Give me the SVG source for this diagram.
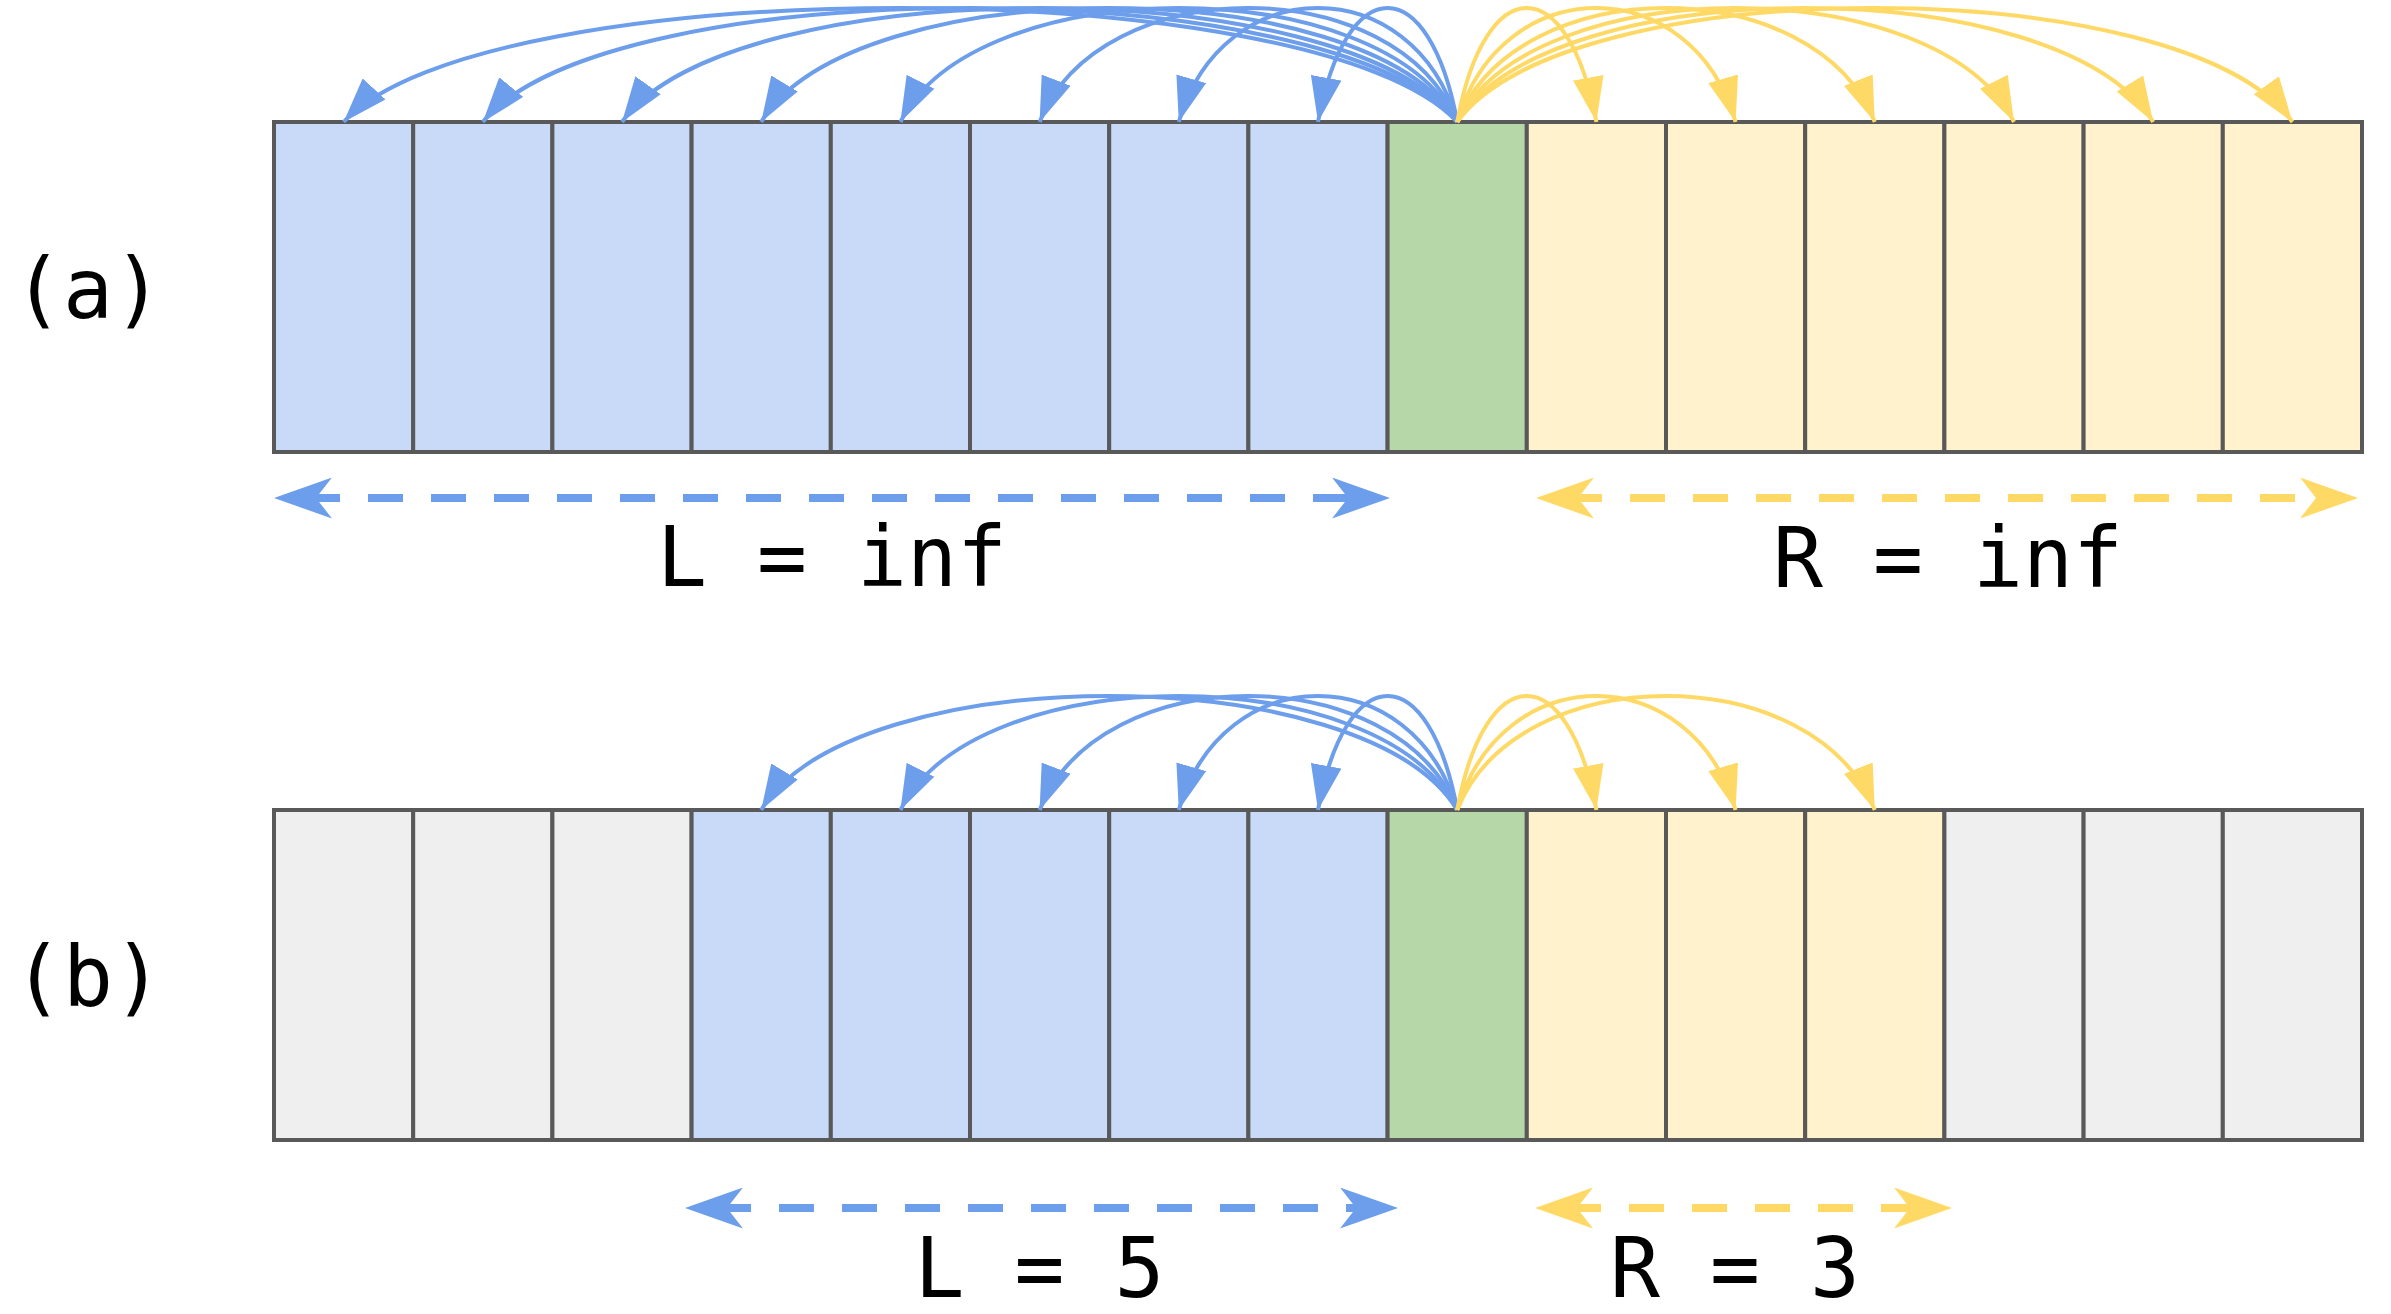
<svg xmlns="http://www.w3.org/2000/svg" width="2391" height="1314" viewBox="0 0 2391 1314">
  <style>
    .cell { stroke: #595959; stroke-width: 4; }
    .blue { fill: #c9daf8; }
    .green { fill: #b6d7a8; }
    .yellow { fill: #fff2cc; }
    .grey { fill: #efefef; }
    .arcB { fill: none; stroke: #6d9eeb; stroke-width: 4; marker-end: url(#headB); }
    .arcY { fill: none; stroke: #ffd966; stroke-width: 4; marker-end: url(#headY); }
    .dashB { fill: none; stroke: #6d9eeb; stroke-width: 8; stroke-dasharray: 35 28; stroke-dashoffset: 62; marker-start: url(#dheadB); marker-end: url(#dheadB); }
    .dashY { fill: none; stroke: #ffd966; stroke-width: 8; stroke-dasharray: 35 28; stroke-dashoffset: 62; marker-start: url(#dheadY); marker-end: url(#dheadY); }
    .lbl { font-family: "DejaVu Sans Mono", "Liberation Mono", monospace; font-size: 83px; fill: #000000; text-anchor: middle; }
  </style>
  <defs>
    <marker id="headB" markerUnits="userSpaceOnUse" viewBox="0 0 45 31" markerWidth="45" markerHeight="31" refX="45" refY="15.5" orient="auto">
      <path d="M0,0 L45,15.5 L0,31 z" fill="#6d9eeb"/>
    </marker>
    <marker id="headY" markerUnits="userSpaceOnUse" viewBox="0 0 45 31" markerWidth="45" markerHeight="31" refX="45" refY="15.5" orient="auto">
      <path d="M0,0 L45,15.5 L0,31 z" fill="#ffd966"/>
    </marker>
    <marker id="dheadB" markerUnits="userSpaceOnUse" viewBox="0 0 58 41" markerWidth="58" markerHeight="41" refX="28" refY="20.5" orient="auto-start-reverse">
      <path d="M0,0 L58,20.5 L0,41 L16,20.5 z" fill="#6d9eeb"/>
    </marker>
    <marker id="dheadY" markerUnits="userSpaceOnUse" viewBox="0 0 58 41" markerWidth="58" markerHeight="41" refX="28" refY="20.5" orient="auto-start-reverse">
      <path d="M0,0 L58,20.5 L0,41 L16,20.5 z" fill="#ffd966"/>
    </marker>
  </defs>
  <rect x="0" y="0" width="2391" height="1314" fill="#ffffff"/>

  <!-- Panel (a) -->
  <g id="label-a"><text class="lbl" x="88" y="318">(a)</text></g>
  <g id="row-a">
    <g id="a-cell-0"><rect class="cell blue" x="274" y="122" width="139.2" height="330"/></g>
    <g id="a-cell-1"><rect class="cell blue" x="413.2" y="122" width="139.2" height="330"/></g>
    <g id="a-cell-2"><rect class="cell blue" x="552.4" y="122" width="139.2" height="330"/></g>
    <g id="a-cell-3"><rect class="cell blue" x="691.6" y="122" width="139.2" height="330"/></g>
    <g id="a-cell-4"><rect class="cell blue" x="830.8" y="122" width="139.2" height="330"/></g>
    <g id="a-cell-5"><rect class="cell blue" x="970" y="122" width="139.2" height="330"/></g>
    <g id="a-cell-6"><rect class="cell blue" x="1109.2" y="122" width="139.2" height="330"/></g>
    <g id="a-cell-7"><rect class="cell blue" x="1248.4" y="122" width="139.2" height="330"/></g>
    <g id="a-cell-8"><rect class="cell green" x="1387.6" y="122" width="139.2" height="330"/></g>
    <g id="a-cell-9"><rect class="cell yellow" x="1526.8" y="122" width="139.2" height="330"/></g>
    <g id="a-cell-10"><rect class="cell yellow" x="1666" y="122" width="139.2" height="330"/></g>
    <g id="a-cell-11"><rect class="cell yellow" x="1805.2" y="122" width="139.2" height="330"/></g>
    <g id="a-cell-12"><rect class="cell yellow" x="1944.4" y="122" width="139.2" height="330"/></g>
    <g id="a-cell-13"><rect class="cell yellow" x="2083.6" y="122" width="139.2" height="330"/></g>
    <g id="a-cell-14"><rect class="cell yellow" x="2222.8" y="122" width="139.2" height="330"/></g>
  </g>
  <g id="a-text-L"><text class="lbl" x="832" y="586">L = inf</text></g>
  <g id="a-text-R"><text class="lbl" x="1948" y="587">R = inf</text></g>

  <!-- Panel (b) -->
  <g id="label-b"><text class="lbl" x="88" y="1006">(b)</text></g>
  <g id="row-b">
    <g id="b-cell-0"><rect class="cell grey" x="274" y="810" width="139.2" height="330"/></g>
    <g id="b-cell-1"><rect class="cell grey" x="413.2" y="810" width="139.2" height="330"/></g>
    <g id="b-cell-2"><rect class="cell grey" x="552.4" y="810" width="139.2" height="330"/></g>
    <g id="b-cell-3"><rect class="cell blue" x="691.6" y="810" width="139.2" height="330"/></g>
    <g id="b-cell-4"><rect class="cell blue" x="830.8" y="810" width="139.2" height="330"/></g>
    <g id="b-cell-5"><rect class="cell blue" x="970" y="810" width="139.2" height="330"/></g>
    <g id="b-cell-6"><rect class="cell blue" x="1109.2" y="810" width="139.2" height="330"/></g>
    <g id="b-cell-7"><rect class="cell blue" x="1248.4" y="810" width="139.2" height="330"/></g>
    <g id="b-cell-8"><rect class="cell green" x="1387.6" y="810" width="139.2" height="330"/></g>
    <g id="b-cell-9"><rect class="cell yellow" x="1526.8" y="810" width="139.2" height="330"/></g>
    <g id="b-cell-10"><rect class="cell yellow" x="1666" y="810" width="139.2" height="330"/></g>
    <g id="b-cell-11"><rect class="cell yellow" x="1805.2" y="810" width="139.2" height="330"/></g>
    <g id="b-cell-12"><rect class="cell grey" x="1944.4" y="810" width="139.2" height="330"/></g>
    <g id="b-cell-13"><rect class="cell grey" x="2083.6" y="810" width="139.2" height="330"/></g>
    <g id="b-cell-14"><rect class="cell grey" x="2222.8" y="810" width="139.2" height="330"/></g>
  </g>
  <g id="b-text-L"><text class="lbl" x="1039.5" y="1297">L = 5</text></g>
  <g id="b-text-R"><text class="lbl" x="1735" y="1297">R = 3</text></g>

  <!-- Connectors -->
  <g id="connectors">
    <!-- panel (a) blue -->
    <path class="arcB" d="M1457.2,122 C1429.2,-30 1346,-30 1318,122"/>
    <path class="arcB" d="M1457.2,122 C1413.2,-30 1222.8,-30 1178.8,122"/>
    <path class="arcB" d="M1457.2,122 C1397.2,-30 1099.6,-30 1039.6,122"/>
    <path class="arcB" d="M1457.2,122 C1381.2,-30 976.4,-30 900.4,122"/>
    <path class="arcB" d="M1457.2,122 C1365.2,-30 853.2,-30 761.2,122"/>
    <path class="arcB" d="M1457.2,122 C1349.2,-30 730,-30 622,122"/>
    <path class="arcB" d="M1457.2,122 C1333.2,-30 606.8,-30 482.8,122"/>
    <path class="arcB" d="M1457.2,122 C1317.2,-30 483.6,-30 343.6,122"/>
    <!-- panel (a) yellow -->
    <path class="arcY" d="M1457.2,122 C1485.2,-30 1568.4,-30 1596.4,122"/>
    <path class="arcY" d="M1457.2,122 C1501.2,-30 1691.6,-30 1735.6,122"/>
    <path class="arcY" d="M1457.2,122 C1517.2,-30 1814.8,-30 1874.8,122"/>
    <path class="arcY" d="M1457.2,122 C1533.2,-30 1938,-30 2014,122"/>
    <path class="arcY" d="M1457.2,122 C1549.2,-30 2061.2,-30 2153.2,122"/>
    <path class="arcY" d="M1457.2,122 C1565.2,-30 2184.4,-30 2292.4,122"/>
    <!-- panel (b) blue -->
    <path class="arcB" d="M1457.2,810 C1429.2,658 1346,658 1318,810"/>
    <path class="arcB" d="M1457.2,810 C1413.2,658 1222.8,658 1178.8,810"/>
    <path class="arcB" d="M1457.2,810 C1397.2,658 1099.6,658 1039.6,810"/>
    <path class="arcB" d="M1457.2,810 C1381.2,658 976.4,658 900.4,810"/>
    <path class="arcB" d="M1457.2,810 C1365.2,658 853.2,658 761.2,810"/>
    <!-- panel (b) yellow -->
    <path class="arcY" d="M1457.2,810 C1485.2,658 1568.4,658 1596.4,810"/>
    <path class="arcY" d="M1457.2,810 C1501.2,658 1691.6,658 1735.6,810"/>
    <path class="arcY" d="M1457.2,810 C1517.2,658 1814.8,658 1874.8,810"/>
    <!-- range arrows (paths end inside the arrowheads, 30px short of each tip) -->
    <path class="dashB" d="M304,498 L1360,498"/>
    <path class="dashY" d="M1566,498 L2328,498"/>
    <path class="dashB" d="M715,1208 L1368,1208"/>
    <path class="dashY" d="M1565,1208 L1922,1208"/>
  </g>
</svg>
